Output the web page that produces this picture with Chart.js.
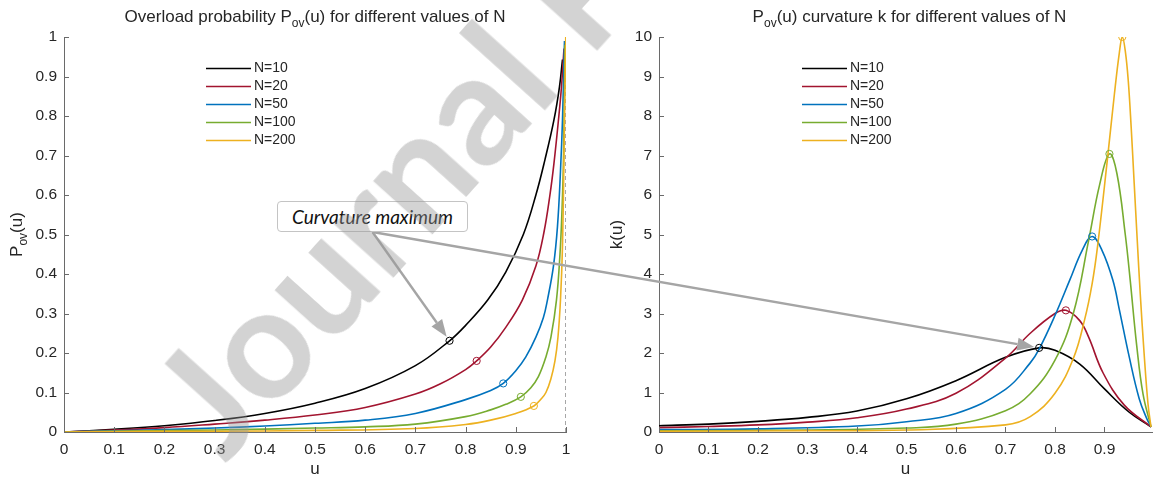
<!DOCTYPE html>
<html lang="en">
<head>
<meta charset="UTF-8">
<title>Overload probability and curvature</title>
<script src="https://cdn.jsdelivr.net/npm/chart.js"></script>
<style>
    html, body {
        margin: 0;
        padding: 0;
        background: #fff;
    }
    #wrap {
        position: relative;
        width: 1157px;
        height: 480px;
        overflow: hidden;
    }
    #wrap canvas {
        position: absolute;
        top: 0;
    }
    #note {
        position: absolute;
        left: 277px;
        top: 201px;
        width: 189px;
        height: 29px;
        border: 1px solid #c4c4c4;
        border-radius: 4px;
        background: #fff;
        font: italic 19px Lato, "Open Sans", sans-serif;
        line-height: 29px;
        text-align: center;
        color: #111;
    }
    #mark {
        position: absolute;
        left: 240px;
        top: 318px;
        height: 160px;
        font: bold 156px Lato, "Open Sans", sans-serif;
        line-height: 160px;
        white-space: nowrap;
        color: rgba(150, 150, 150, 0.42);
        transform-origin: 0 100%;
        transform: rotate(-48deg);
        pointer-events: none;
    }
</style>
</head>
<body>
<div id="wrap">
    <canvas id="leftChart" width="580" height="480" style="left:0"></canvas>
    <canvas id="rightChart" width="577" height="480" style="left:580px"></canvas>
    <canvas id="overlay" width="1157" height="480" style="left:0"></canvas>
    <div id="note">Curvature maximum</div>
    <div id="mark">Journal Pre-proof</div>
</div>
<script>
    const FONT = '"Liberation Sans", Arial, sans-serif';
    const TEXT = '#262626';
    const AXIS = '#6a6a6a';

    const seriesNames = ['N=10', 'N=20', 'N=50', 'N=100', 'N=200'];
    const colors = ['#000000', '#A2142F', '#0072BD', '#77AC30', '#EDB120'];

    // left panel, P_ov(u)
    const uP10 = [0, 0.1, 0.2, 0.3, 0.4, 0.5, 0.6, 0.7, 0.768, 0.8, 0.844, 0.88, 0.915, 0.94, 0.958, 0.976, 0.987, 0.993];
    const p10 = [0, 0.007, 0.016, 0.029, 0.047, 0.073, 0.11, 0.168, 0.231, 0.27, 0.334, 0.405, 0.5, 0.6, 0.689, 0.79, 0.874, 0.943];
    const uP20 = [0, 0.1, 0.2, 0.3, 0.4, 0.5, 0.6, 0.7, 0.75, 0.8, 0.822, 0.85, 0.88, 0.913, 0.94, 0.956, 0.968, 0.976, 0.985, 0.991, 0.996];
    const p20 = [0, 0.005, 0.011, 0.02, 0.03, 0.043, 0.062, 0.096, 0.122, 0.158, 0.18, 0.215, 0.265, 0.334, 0.42, 0.505, 0.6, 0.68, 0.79, 0.874, 0.971];
    const uP50 = [0, 0.1, 0.2, 0.3, 0.4, 0.5, 0.6, 0.7, 0.8, 0.85, 0.875, 0.9, 0.92, 0.94, 0.955, 0.963, 0.975, 0.983, 0.989, 0.993, 0.997];
    const p50 = [0, 0.003, 0.006, 0.01, 0.015, 0.022, 0.03, 0.047, 0.082, 0.105, 0.123, 0.155, 0.19, 0.24, 0.29, 0.334, 0.42, 0.52, 0.66, 0.79, 0.99];
    const uP100 = [0, 0.1, 0.3, 0.5, 0.6, 0.7, 0.8, 0.85, 0.88, 0.91, 0.93, 0.945, 0.96, 0.97, 0.981, 0.988, 0.992, 0.995, 0.998];
    const p100 = [0, 0.002, 0.005, 0.01, 0.013, 0.02, 0.039, 0.056, 0.07, 0.089, 0.112, 0.14, 0.19, 0.24, 0.334, 0.45, 0.56, 0.69, 0.98];
    const uP200 = [0, 0.1, 0.3, 0.5, 0.7, 0.8, 0.85, 0.9, 0.936, 0.95, 0.96, 0.97, 0.978, 0.984, 0.989, 0.993, 0.996, 0.9995];
    const p200 = [0, 0.001, 0.002, 0.004, 0.009, 0.019, 0.03, 0.047, 0.066, 0.083, 0.1, 0.135, 0.18, 0.24, 0.334, 0.47, 0.7, 1.0];

    // right panel, curvature k(u)
    const uK10 = [0, 0.1, 0.2, 0.3, 0.4, 0.5, 0.6, 0.7, 0.768, 0.8, 0.85, 0.9, 0.95, 0.994];
    const k10 = [0.16, 0.2, 0.27, 0.37, 0.53, 0.84, 1.3, 1.89, 2.13, 2.07, 1.72, 1.09, 0.5, 0.13];
    const uK20 = [0, 0.1, 0.2, 0.3, 0.4, 0.5, 0.6, 0.7, 0.75, 0.8, 0.822, 0.85, 0.868, 0.897, 0.94, 0.994];
    const k20 = [0.11, 0.14, 0.18, 0.25, 0.36, 0.58, 0.98, 1.87, 2.5, 3.0, 3.08, 2.82, 2.4, 1.5, 0.68, 0.13];
    const uK50 = [0, 0.2, 0.4, 0.5, 0.6, 0.7, 0.75, 0.768, 0.8, 0.83, 0.855, 0.875, 0.895, 0.917, 0.93, 0.95, 0.97, 0.985, 0.994];
    const k50 = [0.06, 0.08, 0.15, 0.26, 0.47, 1.08, 1.75, 2.1, 2.95, 3.85, 4.6, 4.95, 4.6, 3.84, 3.1, 1.9, 0.85, 0.35, 0.13];
    const uK100 = [0, 0.3, 0.5, 0.6, 0.7, 0.75, 0.8, 0.837, 0.868, 0.89, 0.91, 0.925, 0.942, 0.952, 0.965, 0.978, 0.994];
    const k100 = [0.03, 0.05, 0.1, 0.2, 0.54, 0.97, 1.82, 3.0, 4.85, 6.25, 7.04, 6.55, 5.0, 3.84, 2.2, 0.95, 0.13];
    const uK200 = [0, 0.3, 0.5, 0.7, 0.75, 0.8, 0.837, 0.86, 0.875, 0.886, 0.905, 0.92, 0.93, 0.936, 0.942, 0.948, 0.954, 0.96, 0.966, 0.972, 0.98, 0.988, 0.994];
    const k200 = [0.02, 0.03, 0.05, 0.18, 0.39, 0.98, 1.86, 2.85, 3.75, 4.7, 6.8, 8.55, 9.6, 10.0, 9.65, 8.9, 7.7, 6.3, 4.9, 3.55, 2.0, 0.7, 0.13];

    // curvature maxima (circles)
    const peakU = [0.768, 0.822, 0.875, 0.91, 0.936];
    const peakP = [0.231, 0.18, 0.123, 0.089, 0.066];
    const peakK = [2.13, 3.08, 4.95, 7.04, 10.0];

    // dashed limit at u = 1
    const limitU = [1, 1];
    const limitP = [0, 1];

    const xTicksLeft = [0, 0.1, 0.2, 0.3, 0.4, 0.5, 0.6, 0.7, 0.8, 0.9, 1];
    const yTicksLeft = [0, 0.1, 0.2, 0.3, 0.4, 0.5, 0.6, 0.7, 0.8, 0.9, 1];
    const xTicksRight = [0, 0.1, 0.2, 0.3, 0.4, 0.5, 0.6, 0.7, 0.8, 0.9];
    const yTicksRight = [0, 1, 2, 3, 4, 5, 6, 7, 8, 9, 10];

    Chart.defaults.font.family = FONT;
    Chart.defaults.color = TEXT;

    function pts(xs, ys) {
        return xs.map((x, i) => ({ x: x, y: ys[i] }));
    }

    function curveSets(us, vs) {
        return us.map((u, i) => ({
            label: seriesNames[i],
            isCurve: true,
            data: pts(u, vs[i]),
            showLine: true,
            borderColor: colors[i],
            borderWidth: 1.6,
            pointRadius: 0,
            tension: 0.4,
            order: 6 - i
        }));
    }

    function markerSets(ys) {
        return peakU.map((u, i) => ({
            label: '',
            data: [{ x: u, y: ys[i] }],
            showLine: false,
            pointRadius: 3.6,
            pointBorderWidth: 1,
            pointBorderColor: colors[i],
            pointBackgroundColor: 'rgba(0,0,0,0)',
            order: 0
        }));
    }

    // text with a lowered subscript part, centred on (cx, cy)
    function drawRich(ctx, parts, cx, cy, size) {
        const sub = Math.round(size * 0.72);
        let total = 0;
        parts.forEach(p => {
            ctx.font = (p.sub ? sub : size) + 'px ' + FONT;
            p.w = ctx.measureText(p.t).width;
            total += p.w;
        });
        let x = cx - total / 2;
        ctx.textAlign = 'left';
        ctx.textBaseline = 'middle';
        parts.forEach(p => {
            ctx.font = (p.sub ? sub : size) + 'px ' + FONT;
            ctx.fillText(p.t, x, cy + (p.sub ? size * 0.42 : 0));
            x += p.w;
        });
    }

    // MATLAB-ish look: inward ticks, title, y label, legend
    function makeLook(cfg) {
        return {
            id: 'look',
            afterDraw(chart) {
                const ctx = chart.ctx;
                const ca = chart.chartArea;
                const xs = chart.scales.x, ys = chart.scales.y;
                ctx.save();
                ctx.strokeStyle = AXIS;
                ctx.lineWidth = 1;
                ctx.beginPath();
                xs.ticks.forEach(t => {
                    const px = Math.round(xs.getPixelForValue(t.value)) + 0.5;
                    ctx.moveTo(px, ca.bottom);
                    ctx.lineTo(px, ca.bottom - 5);
                });
                ys.ticks.forEach(t => {
                    const py = Math.round(ys.getPixelForValue(t.value)) + 0.5;
                    ctx.moveTo(ca.left, py);
                    ctx.lineTo(ca.left + 5, py);
                });
                ctx.stroke();

                ctx.fillStyle = TEXT;
                drawRich(ctx, cfg.title, (ca.left + cfg.plotRight) / 2, 17, 17);

                ctx.save();
                ctx.translate(cfg.yTitleX, (ca.top + ca.bottom) / 2);
                ctx.rotate(-Math.PI / 2);
                drawRich(ctx, cfg.yTitle, 0, 0, 17);
                ctx.restore();

                // legend
                const curves = chart.data.datasets.filter(d => d.isCurve);
                curves.forEach((d, i) => {
                    const y = Math.round(cfg.legendY + i * 18) + 0.5;
                    ctx.strokeStyle = d.borderColor;
                    ctx.lineWidth = 1.6;
                    ctx.beginPath();
                    ctx.moveTo(cfg.legendX, y);
                    ctx.lineTo(cfg.legendX + 45, y);
                    ctx.stroke();
                    ctx.fillStyle = TEXT;
                    ctx.font = '14px ' + FONT;
                    ctx.textAlign = 'left';
                    ctx.textBaseline = 'middle';
                    ctx.fillText(d.label, cfg.legendX + 48, y);
                });
                ctx.restore();
            }
        };
    }

    function panelOptions(o) {
        return {
            responsive: false,
            animation: false,
            events: [],
            layout: { padding: { left: 0, top: 37, right: o.padRight, bottom: 0 } },
            plugins: {
                legend: { display: false },
                tooltip: { enabled: false },
                title: { display: false }
            },
            scales: {
                x: {
                    type: 'linear',
                    min: 0,
                    max: o.xMax,
                    afterBuildTicks: s => { s.ticks = o.xTicks.map(v => ({ value: v })); },
                    afterFit: s => { s.height = 48; },
                    grid: { drawOnChartArea: false, drawTicks: false },
                    border: { color: AXIS, width: 1 },
                    ticks: { padding: 8, color: TEXT, font: { size: 15.5 }, maxRotation: 0, autoSkip: false, callback: v => String(v) },
                    title: { display: true, text: 'u', color: TEXT, font: { size: 17 }, padding: { top: 0, bottom: 0 } }
                },
                y: {
                    type: 'linear',
                    min: 0,
                    max: o.yMax,
                    afterBuildTicks: s => { s.ticks = o.yTicks.map(v => ({ value: v })); },
                    afterFit: s => { s.width = o.yWidth; },
                    grid: { drawOnChartArea: false, drawTicks: false },
                    border: { color: AXIS, width: 1 },
                    ticks: { padding: 7, color: TEXT, font: { size: 15.5 }, autoSkip: false, callback: v => String(v) }
                }
            }
        };
    }

    const leftChart = new Chart(document.getElementById('leftChart'), {
        type: 'scatter',
        data: {
            datasets: [
                ...curveSets([uP10, uP20, uP50, uP100, uP200], [p10, p20, p50, p100, p200]),
                ...markerSets(peakP),
                {
                    label: '',
                    data: pts(limitU, limitP),
                    showLine: true,
                    borderColor: '#8a8a8a',
                    borderWidth: 1.5,
                    borderDash: [4, 3],
                    pointRadius: 0,
                    order: 10
                }
            ]
        },
        options: panelOptions({ xMax: 1, yMax: 1, xTicks: xTicksLeft, yTicks: yTicksLeft, yWidth: 64, padRight: 14 }),
        plugins: [makeLook({
            title: [{ t: 'Overload probability P' }, { t: 'ov', sub: true }, { t: '(u) for different values of N' }],
            yTitle: [{ t: 'P' }, { t: 'ov', sub: true }, { t: '(u)' }],
            yTitleX: 17,
            plotRight: 566,
            legendX: 206,
            legendY: 68
        })]
    });

    const rightChart = new Chart(document.getElementById('rightChart'), {
        type: 'scatter',
        data: {
            datasets: [
                ...curveSets([uK10, uK20, uK50, uK100, uK200], [k10, k20, k50, k100, k200]),
                ...markerSets(peakK)
            ]
        },
        options: panelOptions({ xMax: 0.996, yMax: 10, xTicks: xTicksRight, yTicks: yTicksRight, yWidth: 79, padRight: 0 }),
        plugins: [makeLook({
            title: [{ t: 'P' }, { t: 'ov', sub: true }, { t: '(u) curvature k for different values of N' }],
            yTitle: [{ t: 'k(u)' }],
            yTitleX: 37,
            plotRight: 580,
            legendX: 222,
            legendY: 68
        })]
    });

    // arrows from the note box to the black curvature maxima in both panels
    function arrow(ctx, from, to) {
        const dx = to.x - from.x, dy = to.y - from.y;
        const len = Math.hypot(dx, dy);
        const ux = dx / len, uy = dy / len;
        const tip = { x: to.x - ux * 5, y: to.y - uy * 5 };
        const head = 17, half = 6.5;
        const base = { x: tip.x - ux * head, y: tip.y - uy * head };
        ctx.strokeStyle = '#a5a5a5';
        ctx.fillStyle = '#a5a5a5';
        ctx.lineWidth = 2.4;
        ctx.beginPath();
        ctx.moveTo(from.x, from.y);
        ctx.lineTo(base.x, base.y);
        ctx.stroke();
        ctx.beginPath();
        ctx.moveTo(tip.x, tip.y);
        ctx.lineTo(base.x - uy * half, base.y + ux * half);
        ctx.lineTo(base.x + uy * half, base.y - ux * half);
        ctx.closePath();
        ctx.fill();
    }

    const overlay = document.getElementById('overlay').getContext('2d');
    const note = document.getElementById('note');
    const start = { x: note.offsetLeft + note.offsetWidth / 2, y: note.offsetTop + note.offsetHeight };
    const rightOffset = document.getElementById('rightChart').offsetLeft;
    arrow(overlay, start, {
        x: leftChart.scales.x.getPixelForValue(peakU[0]),
        y: leftChart.scales.y.getPixelForValue(peakP[0])
    });
    arrow(overlay, start, {
        x: rightOffset + rightChart.scales.x.getPixelForValue(peakU[0]),
        y: rightChart.scales.y.getPixelForValue(peakK[0])
    });
</script>
</body>
</html>
